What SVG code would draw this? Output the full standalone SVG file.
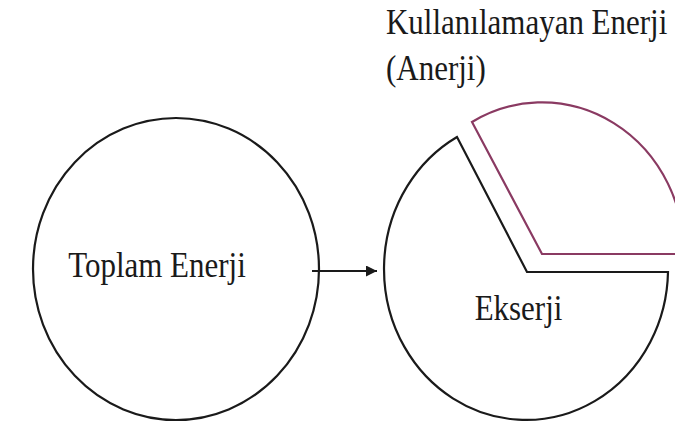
<svg xmlns="http://www.w3.org/2000/svg" width="675" height="429" viewBox="0 0 675 429">
<style>
.shape{fill:none;stroke:#1a1a1a;stroke-width:2.2}
.pink{fill:none;stroke:#8a3a62;stroke-width:2.2}
.lbl{font-family:"Liberation Serif","Times New Roman",serif;font-size:31px;fill:#1a1a1a}
</style>
<defs>
<marker id="ah" viewBox="0 0 10 10" refX="10" refY="5" markerWidth="5" markerHeight="5" orient="auto" markerUnits="strokeWidth">
<path d="M0 0 L10 5 L0 10 Z" fill="#1a1a1a"/>
</marker>
</defs>
<rect width="675" height="429" fill="#fff"/>
<g id="toplam">
<ellipse class="shape" cx="176" cy="269" rx="143" ry="151"/>
<text class="lbl" transform="translate(157 277) scale(1 1.17)" text-anchor="middle">Toplam Enerji</text>
</g>
<g id="ekserji">
<path class="shape" d="M457 137 A142 151 0 1 0 668 272 L527 272 Z"/>
<text class="lbl" transform="translate(518.5 320) scale(1 1.17)" text-anchor="middle">Ekserji</text>
</g>
<g id="anerji">
<path class="pink" d="M472 122 A142 151 0 0 1 684 254 L542 254 Z"/>
<text class="lbl" transform="translate(386 34) scale(1 1.17)">Kullanılamayan Enerji</text>
<text class="lbl" transform="translate(386 80) scale(1 1.17)">(Anerji)</text>
</g>
<g id="connectors">
<line class="shape" x1="312" y1="271" x2="377" y2="271" marker-end="url(#ah)"/>
</g>
</svg>
